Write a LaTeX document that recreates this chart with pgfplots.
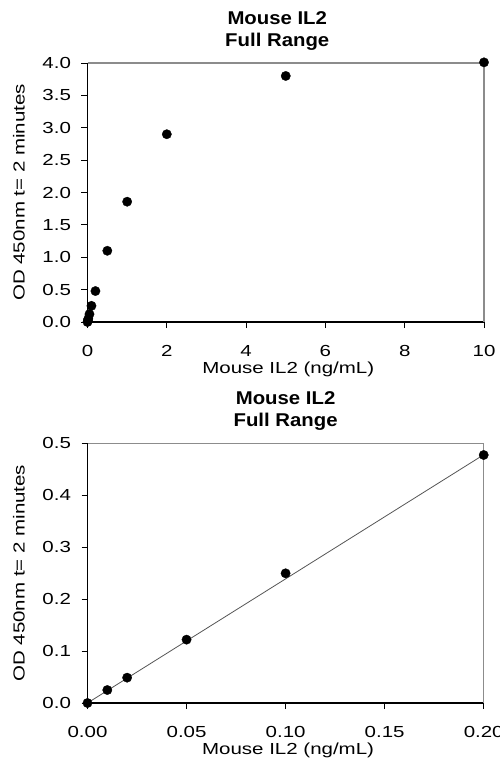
\documentclass[border=0pt]{standalone}
\usepackage{pgfplots}
\pgfplotsset{compat=1.18}
\usepackage{fontspec}
\setmainfont{Liberation Sans}[FakeStretch=1.28]
\newfontfamily\titlefont{Liberation Sans}[FakeStretch=1.1]
\definecolor{framegray}{HTML}{8C8C8C}
\definecolor{linegray}{HTML}{555555}
\pgfplotsset{
  myaxis/.style={
    scale only axis,
    anchor=south west,
    clip=false,
    axis x line*=bottom,
    axis y line*=left,
    axis line style={-, black, line width=1.1pt},
    xtick pos=bottom, ytick pos=left,
    tick align=outside,
    major tick length=6pt,
    tick style={black, line width=0.9pt},
    /pgf/number format/assume math mode=true,
    ticklabel style={font=\fontsize{16}{19}\selectfont},
    xticklabel shift=14pt,
    yticklabel shift=7pt,
    every axis x label/.style={at={(rel axis cs:0.5,0)}, anchor=base, yshift=-51.5pt, xshift=2.5pt, font=\fontsize{16}{19}\selectfont},
    every axis y label/.style={at={(rel axis cs:0,0.5)}, xshift=-68.5pt, rotate=90, anchor=center, font=\fontsize{16}{19}\selectfont},
    every axis title/.style={at={(rel axis cs:0.5,1)}, anchor=south, yshift=12.5pt, inner sep=0pt, align=center, font=\titlefont\bfseries\fontsize{18.5}{21.7}\selectfont},
    title={Mouse IL2\\Full Range},
    xlabel={Mouse IL2 (ng/mL)},
    ylabel={OD 450nm t= 2 minutes},
  },
  dots/.style={only marks, mark=*, mark size=4.7pt, mark options={fill=black, draw=black, line width=0.3pt}},
}
\begin{document}
\begin{tikzpicture}
\useasboundingbox (0,0) rectangle (499pt,-765pt);
\begin{axis}[myaxis,
  at={(87.5pt,-322pt)},
  width=396.5pt, height=259pt,
  xmin=0, xmax=10, ymin=0, ymax=4,
  xtick={0,2,4,6,8,10},
  ytick={0,0.5,...,4.0},
  yticklabel style={/pgf/number format/.cd, fixed, fixed zerofill, precision=1},
  title style={xshift=-8.5pt},
]
\draw[framegray, line width=1.3pt] (rel axis cs:0,1) -- (rel axis cs:1,1) -- (rel axis cs:1,0);
\addplot[dots] coordinates {
  (0,0) (0.01,0.025) (0.02,0.049) (0.05,0.122) (0.1,0.25) (0.2,0.478)
  (0.5,1.10) (1,1.858) (2,2.90) (5,3.80) (10,4.01)
};
\end{axis}
\begin{axis}[myaxis,
  at={(87.5pt,-703pt)},
  width=396.2pt, height=259.7pt,
  xmin=0, xmax=0.2, ymin=0, ymax=0.5,
  xtick={0,0.05,0.10,0.15,0.20},
  ytick={0,0.1,0.2,0.3,0.4,0.5},
  xticklabel style={/pgf/number format/.cd, fixed, fixed zerofill, precision=2},
  yticklabel style={/pgf/number format/.cd, fixed, fixed zerofill, precision=1},
  scaled x ticks=false,
]
\draw[framegray, line width=1.3pt] (rel axis cs:0,1) -- (rel axis cs:1,1) -- (rel axis cs:1,0);
\addplot[linegray, line width=0.8pt] coordinates {(0,0) (0.2,0.478)};
\addplot[dots] coordinates {
  (0,0) (0.01,0.025) (0.02,0.0488) (0.05,0.122) (0.1,0.2497) (0.2,0.4775)
};
\end{axis}
\end{tikzpicture}
\end{document}
